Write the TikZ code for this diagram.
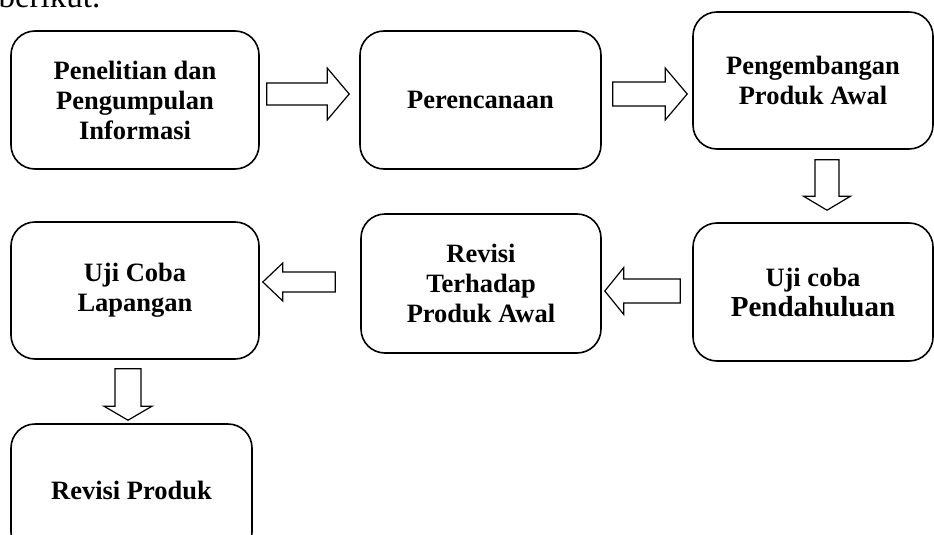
\documentclass[tikz,border=0pt]{standalone}
\usepackage{fontspec}
\setmainfont{Liberation Serif}
\usetikzlibrary{calc}

\begin{document}
\begin{tikzpicture}[
    x=1pt, y=-1pt,
    stage/.style={rectangle, draw, line width=1.6pt, rounded corners=24pt, minimum width=240pt, minimum height=138pt, align=center, font=\bfseries\fontsize{26.5}{30}\selectfont},
    blockarrow/.style n args={3}{line width=1.2pt, to path={
        ($(\tikztostart)!#1!90:(\tikztotarget)$)
        -- ($(\tikztotarget)!#3!(\tikztostart)!#1!90:(\tikztotarget)$)
        -- ($(\tikztotarget)!#3!(\tikztostart)!#2!90:(\tikztotarget)$)
        -- (\tikztotarget)
        -- ($(\tikztotarget)!#3!(\tikztostart)!#2!-90:(\tikztotarget)$)
        -- ($(\tikztotarget)!#3!(\tikztostart)!#1!-90:(\tikztotarget)$)
        -- ($(\tikztostart)!#1!-90:(\tikztotarget)$)
        -- cycle}}
]
    \useasboundingbox (0,0) rectangle (934,535);
    \node[anchor=base west, font=\fontsize{33}{36}\selectfont] (intro) at (-5,8) {berikut.};

    % top row
    \node[stage, minimum width=248pt] (riset) at (135,100) {Penelitian dan\\Pengumpulan\\Informasi};
    \node[stage, minimum width=241pt] (rencana) at (480.5,100) {Perencanaan};
    \node[stage, minimum height=137pt] (kembang) at (813,80.5) {Pengembangan\\Produk Awal};
    % middle row
    \node[stage] (ujiawal) at (813,292) {Uji coba\\{\fontsize{29}{35}\selectfont Pendahuluan}};
    \node[stage, minimum height=139pt] (revawal) at (481,283.5) {Revisi\\Terhadap\\Produk Awal};
    \node[stage, minimum width=248pt, minimum height=137pt] (ujilap) at (135,290.5) {Uji Coba\\Lapangan};
    % bottom
    \node[stage, minimum width=241pt, minimum height=132pt] (revprod) at (131.5,490) {Revisi Produk};

    \draw[blockarrow={11pt}{26pt}{22pt}] ([shift={(7,-6)}]riset.east) to ([shift={(-10,-6)}]rencana.west);
    \draw[blockarrow={12pt}{26pt}{22pt}] ([shift={(11,-6)}]rencana.east) to ([shift={(-5,13.5)}]kembang.west);
    \draw[blockarrow={12pt}{23.5pt}{14pt}] ([shift={(14,10)}]kembang.south) to ([shift={(14,-12)}]ujiawal.north);
    \draw[blockarrow={12pt}{23.5pt}{19pt}] ([shift={(-12,-1)}]ujiawal.west) to ([shift={(3,7.5)}]revawal.east);
    \draw[blockarrow={10pt}{19pt}{20pt}] ([shift={(-25,-1.5)}]revawal.west) to ([shift={(3,-8.5)}]ujilap.east);
    \draw[blockarrow={13pt}{24pt}{14pt}] ([shift={(-7,9)}]ujilap.south) to ([shift={(-3.5,-3)}]revprod.north);
\end{tikzpicture}
\end{document}
